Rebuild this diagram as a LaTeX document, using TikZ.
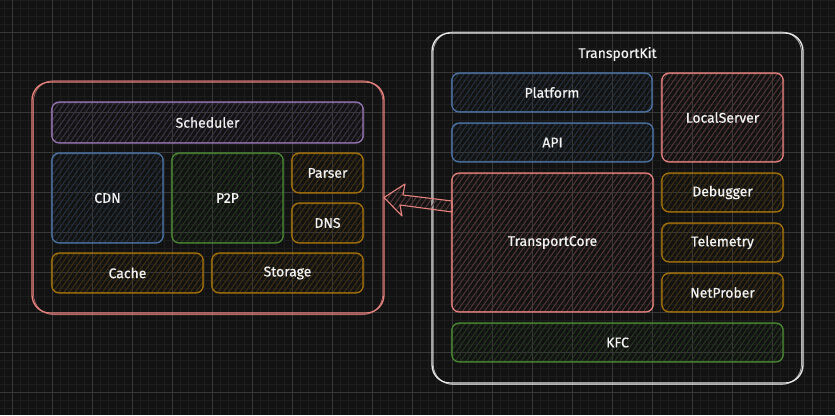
\documentclass[tikz,border=0pt]{standalone}
\usepackage{fontspec}
\setmainfont{Fira Sans}
\newfontfamily\handfont{Fira Sans}[FakeBold=0.6]
\usetikzlibrary{patterns.meta,calc}
\definecolor{bg}{HTML}{121212}
\definecolor{gmaj}{HTML}{383838}
\definecolor{gmin}{HTML}{1D1D1D}
\definecolor{cred}{HTML}{E8837F}
\definecolor{cblue}{HTML}{4C75A8}
\definecolor{cgreen}{HTML}{4A8A32}
\definecolor{corange}{HTML}{A8740A}
\definecolor{cpurple}{HTML}{9A78B8}
\definecolor{cwhite}{HTML}{E8E8E8}
\definecolor{txt}{HTML}{F2F2F2}
\tikzset{
  blk/.style={draw=#1, line width=1.1pt, rounded corners=7pt, inner sep=0pt, outer sep=0pt,
    anchor=north west, text=txt, font=\handfont\fontsize{14}{16}\selectfont,
    pattern={Lines[angle=55,distance=4.5pt,line width=0.9pt]}, pattern color=#1!34!bg},
  outerbox/.style={draw=#1, line width=1.3pt, rounded corners=18pt, inner sep=0pt, outer sep=0pt, anchor=north west},
  redo/.style={draw=#1, line width=0.6pt, opacity=0.75},
  lbl/.style={text=txt, font=\handfont\fontsize{14}{16}\selectfont},
}
\newcommand\skb[7]{%
  \node[blk=#6, minimum width={(#4)-(#2)}, minimum height={(#5)-(#3)}] (#1) at (#2,#3) {\raisebox{-1pt}{#7}};
  \draw[redo=#6, rounded corners=8pt] ($(#1.north west)+(-0.8,0.7)$) rectangle ($(#1.south east)+(0.9,-0.6)$);
}
\begin{document}
\begin{tikzpicture}[x=1pt,y=-1pt]
\useasboundingbox (0,0) rectangle (835,415);
\fill[bg] (0,0) rectangle (835,415);
% grid
\foreach \x in {4,12,...,832} \draw[gmin, line width=0.5pt] (\x,0) -- (\x,415);
\foreach \y in {0,8,...,415} \draw[gmin, line width=0.5pt] (0,\y) -- (835,\y);
\foreach \x in {12,52,...,812} \draw[gmaj, line width=0.6pt] (\x,0) -- (\x,415);
\foreach \y in {32,72,...,392} \draw[gmaj, line width=0.6pt] (0,\y) -- (835,\y);

% left outer box
\node[outerbox=cred, minimum width=352, minimum height=231] (left) at (32,82) {};
\draw[redo=cred, rounded corners=20pt, line width=0.8pt] ($(left.north west)+(1.5,-1.2)$) rectangle ($(left.south east)+(-1.2,1.6)$);

\skb{sched}{52}{102}{363}{143}{cpurple}{Scheduler}
\skb{cdn}{52}{153}{163}{243}{cblue}{CDN}
\skb{p2p}{172}{153}{283}{243}{cgreen}{P2P}
\skb{parser}{292}{153}{363}{193}{corange}{Parser}
\skb{dns}{292}{203}{363}{243}{corange}{DNS}
\skb{cache}{52}{253}{203}{293}{corange}{Cache}
\skb{storage}{212}{253}{363}{293}{corange}{Storage}

% right outer box
\node[outerbox=cwhite, minimum width=371, minimum height=350] (kit) at (432,33) {};
\draw[redo=cwhite, rounded corners=20pt, line width=0.8pt] ($(kit.north west)+(1.2,-1.0)$) rectangle ($(kit.south east)+(-1.5,1.5)$);
\node[lbl] (kitlabel) at ($(kit.north)+(0,21)$) {TransportKit};

\skb{platform}{452}{73}{652}{112}{cblue}{Platform}
\skb{api}{452}{123}{653}{162}{cblue}{API}
\skb{local}{662}{73}{783}{162}{cred}{LocalServer}
\skb{core}{452}{173}{653}{312}{cred}{TransportCore}
\skb{debug}{662}{173}{783}{212}{corange}{Debugger}
\skb{tele}{662}{223}{783}{262}{corange}{Telemetry}
\skb{probe}{662}{273}{783}{312}{corange}{NetProber}
\skb{kfc}{452}{323}{783}{362}{cgreen}{KFC}

% block arrow from TransportCore to left box
\coordinate (tip) at (left.east);
\coordinate (tailT) at ($(core.north west)+(0,28)$);
\coordinate (tailB) at ($(core.north west)+(0,39)$);
\draw[cred, line width=1.1pt, line join=round,
  pattern={Lines[angle=55,distance=4.5pt,line width=0.9pt]}, pattern color=cred!34!bg]
  (tip) -- ($(tip)+(21,-13.5)$) -- ($(tip)+(19,-2.5)$) -- (tailT) -- (tailB)
  -- ($(tip)+(16,7.5)$) -- ($(tip)+(18,18.5)$) -- cycle;
\end{tikzpicture}
\end{document}
